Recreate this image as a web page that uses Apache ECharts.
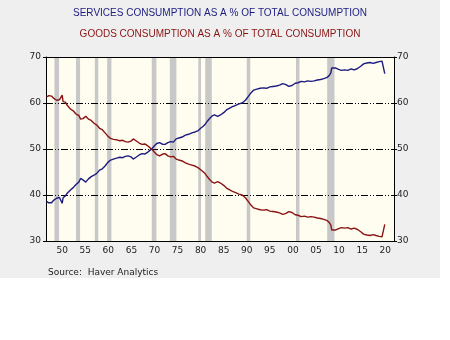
<!DOCTYPE html>
<html>
<head>
<meta charset="utf-8">
<script src="https://cdn.jsdelivr.net/npm/echarts@6/dist/echarts.min.js"></script>
<style>
html,body{margin:0;padding:0;background:#ffffff;}
#chart{width:440px;height:278px;}
</style>
</head>
<body>
<div id="chart"></div>
<script>
// Decimal-year positions and values
const servicesYears = [1947.1,1947.6,1948.2,1948.7,1949.3,1949.9,1950.3,1950.5,1950.7,1951.2,1951.6,1952.3,1952.9,1953.5,1954.1,1954.5,1955.0,1955.6,1956.2,1956.8,1957.4,1958.0,1958.6,1959.2,1959.8,1960.4,1961.0,1961.6,1962.3,1963.0,1963.6,1964.2,1964.8,1965.4,1965.9,1966.5,1967.2,1967.8,1968.4,1968.9,1969.5,1970.0,1970.5,1971.0,1971.6,1972.3,1972.8,1973.4,1974.0,1974.6,1975.2,1975.8,1976.5,1977.2,1977.9,1978.6,1979.3,1980.0,1980.5,1981.0,1981.5,1982.0,1982.5,1983.0,1983.5,1984.2,1984.8,1985.5,1986.1,1986.8,1987.4,1988.1,1988.8,1989.5,1990.2,1990.8,1991.4,1992.0,1992.7,1993.4,1994.1,1994.8,1995.5,1996.2,1996.9,1997.6,1998.3,1999.0,1999.6,2000.3,2001.0,2001.6,2002.3,2003.0,2003.7,2004.4,2005.1,2005.8,2006.5,2007.2,2007.8,2008.3,2008.7,2008.9,2009.3,2009.8,2010.4,2011.0,2011.7,2012.4,2013.1,2013.8,2014.5,2015.2,2015.8,2016.5,2017.2,2017.9,2018.5,2019.2,2019.8,2020.1,2020.4];
const servicesValues = [38.6,38.3,38.3,38.9,39.3,39.5,39.6,38.2,39.4,39.8,40.4,41.1,41.6,42.3,42.8,43.6,43.3,42.8,43.5,44.0,44.3,44.7,45.4,45.7,46.3,47.1,47.6,47.8,48.0,48.2,48.1,48.4,48.5,48.3,47.8,48.2,48.7,49.0,48.9,49.2,49.7,50.1,50.7,51.2,51.4,51.0,51.0,51.4,51.6,51.5,52.2,52.4,52.6,53.0,53.2,53.5,53.7,54.0,54.5,54.9,55.4,56.1,56.7,57.2,57.4,57.1,57.4,57.9,58.5,58.9,59.2,59.5,59.8,60.0,60.6,61.4,62.2,62.8,63.0,63.2,63.3,63.2,63.5,63.6,63.7,63.9,64.2,64.0,63.6,63.8,64.3,64.4,64.7,64.6,64.8,64.7,64.8,65.0,65.1,65.3,65.5,65.9,66.5,67.6,67.8,67.6,67.3,67.1,67.2,67.1,67.4,67.2,67.5,68.0,68.5,68.7,68.8,68.6,68.8,69.0,69.1,68.8,66.4];
const goodsYears = servicesYears;
const goodsValues = [61.3,61.6,61.5,61.0,60.6,60.7,60.4,61.7,60.3,60.2,59.5,58.7,58.3,57.6,57.3,56.5,56.6,57.1,56.5,56.2,55.6,55.2,54.5,54.2,53.5,52.8,52.3,52.1,52.0,51.8,51.9,51.6,51.5,51.7,52.2,51.8,51.3,51.0,51.1,50.8,50.3,49.9,49.3,48.8,48.5,48.9,49.0,48.5,48.3,48.4,47.8,47.6,47.4,47.0,46.7,46.5,46.3,45.9,45.5,45.1,44.6,43.9,43.3,42.8,42.6,42.9,42.6,42.1,41.5,41.1,40.8,40.5,40.2,40.0,39.4,38.6,37.8,37.2,37.0,36.8,36.7,36.8,36.5,36.4,36.3,36.1,35.8,36.0,36.4,36.2,35.7,35.6,35.3,35.4,35.2,35.3,35.2,35.0,34.9,34.7,34.5,34.1,33.5,32.4,32.2,32.4,32.7,32.9,32.8,32.9,32.6,32.8,32.5,32.0,31.5,31.3,31.2,31.4,31.2,31.0,30.9,31.2,33.6];
const recessionStarts = [1948.83,1953.5,1957.58,1960.25,1969.92,1973.83,1980.0,1981.5,1990.5,2001.17,2007.92];
const recessionEnds   = [1949.83,1954.38,1958.33,1961.17,1970.92,1975.25,1980.58,1982.92,1991.25,2001.92,2009.5];
const xTickYears = [1950,1955,1960,1965,1970,1975,1980,1985,1990,1995,2000,2005,2010,2015,2020];
const yTicks = [30,40,50,60,70];
const titleServices = 'SERVICES CONSUMPTION AS A % OF TOTAL CONSUMPTION';
const titleGoods = 'GOODS CONSUMPTION AS A % OF TOTAL CONSUMPTION';
const sourceText = 'Source:  Haver Analytics';

const navy = '#1c1c80';
const maroon = '#8a1414';
const dashPat = [7,2,1,2,1,2];

const chart = echarts.init(document.getElementById('chart'), null, {renderer:'canvas'});
const pair = (xs, ys) => xs.map((x,i)=>[x, ys[i]]);
const labelFont = {fontFamily:'DejaVu Sans', fontSize:9, color:'#222'};

chart.setOption({
  backgroundColor:'#efefef',
  animation:false,
  title:[
    {text:titleServices, left:'center', top:7, padding:0, textStyle:{fontFamily:'Liberation Sans', fontSize:10, lineHeight:12, fontWeight:'normal', color:navy}},
    {text:titleGoods, left:'center', top:28, padding:0, textStyle:{fontFamily:'Liberation Sans', fontSize:10, lineHeight:12, fontWeight:'normal', color:maroon}},
    {text:sourceText, left:48, top:267, padding:0, textStyle:{fontFamily:'DejaVu Sans', fontSize:9, lineHeight:11, fontWeight:'normal', color:'#222'}}
  ],
  grid:{left:46, top:57, width:348, height:184, show:true, backgroundColor:'#fffcf0', borderWidth:0},
  xAxis:[
    {type:'value', min:1947, max:2022.4, z:2,
     axisLine:{show:true, lineStyle:{color:'#000', width:1}},
     axisTick:{show:false},
     splitLine:{show:false},
     axisLabel:{customValues:xTickYears.map(y=>y+0.5), formatter:v=>String(Math.round(v-0.5)).slice(2), margin:5, ...labelFont}},
    {type:'value', position:'top', min:1947, max:2022.4, z:2,
     axisLine:{show:true, onZero:false, lineStyle:{color:'#000', width:1}},
     axisTick:{show:false}, axisLabel:{show:false}, splitLine:{show:false}}
  ],
  yAxis:[
    {type:'value', min:30, max:70, interval:10, position:'left', z:2,
     axisLine:{show:true, lineStyle:{color:'#000', width:1}},
     axisTick:{show:true, inside:false, length:3, lineStyle:{color:'#000'}},
     axisLabel:{margin:5, ...labelFont},
     splitLine:{show:true, lineStyle:{color:'#000', width:1, type:dashPat}}},
    {type:'value', min:30, max:70, interval:10, position:'right', z:2,
     axisLine:{show:true, lineStyle:{color:'#000', width:1}},
     axisTick:{show:true, inside:false, length:3, lineStyle:{color:'#000'}},
     axisLabel:{margin:3, ...labelFont},
     splitLine:{show:false}}
  ],
  series:[
    {type:'line', name:'recessions', data:[], z:1, silent:true,
     markArea:{silent:true, itemStyle:{color:'#c8c8c8'},
       data:recessionStarts.map((s,i)=>[{xAxis:s},{xAxis:recessionEnds[i]}])}},
    {type:'line', name:'Services', data:pair(servicesYears, servicesValues), z:3,
     showSymbol:false, symbol:'none', lineStyle:{color:navy, width:1.4}},
    {type:'line', name:'Goods', data:pair(goodsYears, goodsValues), z:3,
     showSymbol:false, symbol:'none', lineStyle:{color:maroon, width:1.4}}
  ]
});
</script>
</body>
</html>
